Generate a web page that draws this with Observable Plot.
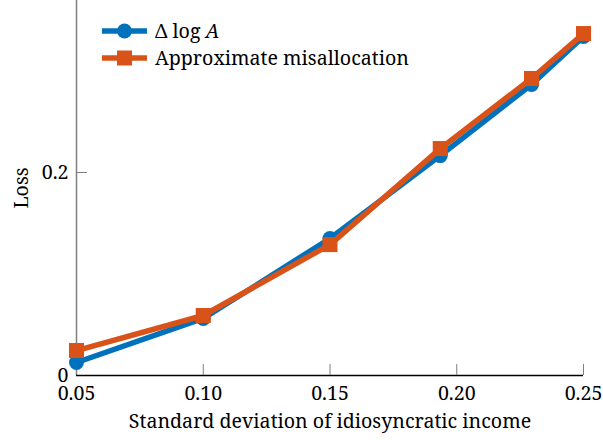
<!DOCTYPE html>
<html><head><meta charset="utf-8">
<script src="https://cdn.jsdelivr.net/npm/d3@7"></script>
<script src="https://cdn.jsdelivr.net/npm/@observablehq/plot@0.6"></script>
<style>
body{margin:0;background:#fff}
#chart{position:relative;width:603px;height:440px}
</style>
</head><body>
<div id="chart"></div>
<script>
const xValues = [0.05, 0.10, 0.15, 0.1935, 0.2295, 0.25];
const deltaLogA = [0.0128, 0.0562, 0.135, 0.2167, 0.2867, 0.334];
const misallocation = [0.0246, 0.0591, 0.129, 0.2236, 0.2926, 0.3369];
const xTicks = [0.05, 0.10, 0.15, 0.20, 0.25];
const yTicks = [0, 0.2];
const seriesNames = ["\u0394 log A", "Approximate misallocation"];

const blue = "#0072BD", orange = "#D95319";
const font = "'Noto Serif', 'Liberation Serif', serif";

const blueData = xValues.map((x, i) => ({x, y: deltaLogA[i]}));
const orangeData = xValues.map((x, i) => ({x, y: misallocation[i]}));

const W = 603, H = 440, mL = 76, mR = 20, mT = 0, mB = 65;

const plot = Plot.plot({
  width: W, height: H,
  marginLeft: mL, marginRight: mR, marginTop: mT, marginBottom: mB,
  style: {fontFamily: font, fontSize: "19.6px", color: "#000", background: "#fff", overflow: "visible"},
  x: {domain: [0.05, 0.25]},
  y: {domain: [0, 0.3695]},
  marks: [
    Plot.ruleX([0.05], {stroke: "#7f7f7f", strokeWidth: 1.5}),
    Plot.ruleY([0], {stroke: "#000", strokeWidth: 1.5}),
    Plot.ruleX(xTicks.slice(1), {x: d => d, stroke: "#7f7f7f", strokeWidth: 1, insetTop: H - mT - mB - 11}),
    Plot.ruleY(yTicks.slice(1), {y: d => d, stroke: "#7f7f7f", strokeWidth: 1, insetRight: W - mL - mR - 11}),
    Plot.axisX({ticks: xTicks, tickSize: 0, tickPadding: 11, tickFormat: d => d.toFixed(2),
      label: "Standard deviation of idiosyncratic income", labelAnchor: "center", labelArrow: "none", labelOffset: 52, fill: "#000"}),
    Plot.axisY({ticks: yTicks, tickSize: 0, tickPadding: 8, tickFormat: d => d === 0 ? "0" : d.toFixed(1),
      label: "Loss", labelAnchor: "center", labelArrow: "none", labelOffset: 62, fill: "#000"}),
    Plot.line(blueData, {x: "x", y: "y", stroke: blue, strokeWidth: 5.5}),
    Plot.dot(blueData, {x: "x", y: "y", r: 7.5, fill: blue, symbol: "circle"}),
    Plot.line(orangeData, {x: "x", y: "y", stroke: orange, strokeWidth: 5.5}),
    Plot.dot(orangeData, {x: "x", y: "y", r: 8.5, fill: orange, symbol: "square"})
  ]
});
document.getElementById("chart").appendChild(plot);

// legend inside plot area, top-left
const svg = d3.select(plot);
const lg = svg.append("g").attr("transform", `translate(${mL},0)`).attr("text-anchor", "start");
const rows = [
  {name: seriesNames[0], color: blue, sym: "circle", y: 31},
  {name: seriesNames[1], color: orange, sym: "square", y: 58}
];
rows.forEach(r => {
  lg.append("line").attr("x1", 26).attr("x2", 71).attr("y1", r.y).attr("y2", r.y)
    .attr("stroke", r.color).attr("stroke-width", 5.5);
  if (r.sym === "circle") lg.append("circle").attr("cx", 48.5).attr("cy", r.y).attr("r", 7.5).attr("fill", r.color);
  else lg.append("rect").attr("x", 41).attr("y", r.y - 7.5).attr("width", 15).attr("height", 15).attr("fill", r.color);
  const t = lg.append("text").attr("x", 79).attr("y", r.y).attr("dy", "0.35em")
    .attr("text-anchor", "start")
    .style("font-family", font).style("font-size", "19.6px").attr("fill", "#000");
  if (r.sym === "circle") {
    t.append("tspan").text("\u0394 log ");
    t.append("tspan").style("font-style", "italic").text("A");
  } else t.text(r.name);
});
</script></body></html>
